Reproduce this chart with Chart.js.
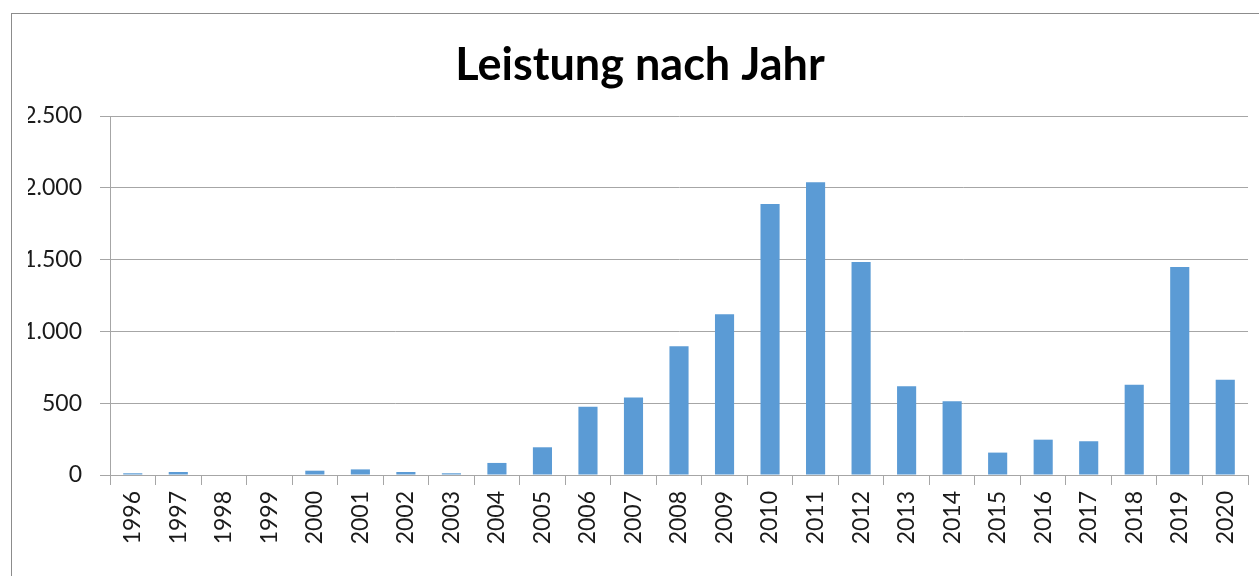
<!DOCTYPE html>
<html>
<head>
<meta charset="utf-8">
<script src="https://cdn.jsdelivr.net/npm/chart.js@4"></script>
<style>
  html, body { margin: 0; padding: 0; background: #fff; overflow: hidden; }
  #frame { position: absolute; left: 11px; top: 13px; width: 2000px; height: 2000px; border: 1px solid #8c8c8c; box-sizing: border-box; }
  #c { position: absolute; left: 0; top: 0; }
</style>
</head>
<body>
<div id="frame"></div>
<canvas id="c" width="1259" height="576"></canvas>
<script>
const titleText = 'Leistung nach Jahr';
const years = ['1996','1997','1998','1999','2000','2001','2002','2003','2004','2005','2006','2007','2008','2009','2010','2011','2012','2013','2014','2015','2016','2017','2018','2019','2020'];
const leistung = [12, 21, 0, 0, 30, 39, 21, 12, 84, 193, 476, 539, 896, 1119, 1887, 2038, 1484, 618, 513, 156, 246, 235, 629, 1449, 664];
const yMin = 0, yMax = 2500, yStep = 500;

function fmtDE(v) { return String(v).replace(/\B(?=(\d{3})+(?!\d))/g, '.'); }

const gridCol = '#a6a6a6';
new Chart(document.getElementById('c'), {
  type: 'bar',
  data: {
    labels: years,
    datasets: [{
      data: leistung,
      backgroundColor: '#5b9bd5',
      borderWidth: 0,
      categoryPercentage: 1,
      barPercentage: 0.42
    }]
  },
  options: {
    responsive: false,
    animation: false,
    devicePixelRatio: 1,
    layout: { padding: { left: 28, right: 7, top: 0, bottom: 0 } },
    plugins: {
      legend: { display: false },
      tooltip: { enabled: false },
      title: {
        display: true,
        text: titleText,
        color: '#000',
        font: { family: 'Lato', size: 45, weight: 'bold', lineHeight: 1.2 },
        padding: { top: 38, bottom: 24 }
      }
    },
    scales: {
      x: {
        grid: { display: true, drawOnChartArea: false, drawTicks: true, tickLength: 10, color: gridCol, offset: true },
        border: { display: true, color: gridCol, width: 1 },
        ticks: { color: '#1a1a1a', font: { family: 'Lato', size: 23 }, minRotation: 90, maxRotation: 90, autoSkip: false, padding: 6 },
        afterFit: function (s) { s.height = 101; }
      },
      y: {
        min: yMin, max: yMax,
        grid: { color: gridCol, tickLength: 10, drawTicks: true },
        border: { display: true, color: gridCol, width: 1 },
        ticks: { stepSize: yStep, color: '#1a1a1a', font: { family: 'Lato', size: 23 }, padding: 18, callback: function (v) { return fmtDE(v); } },
        afterFit: function (s) { s.width = 82; }
      }
    }
  }
});
</script>
</body>
</html>
